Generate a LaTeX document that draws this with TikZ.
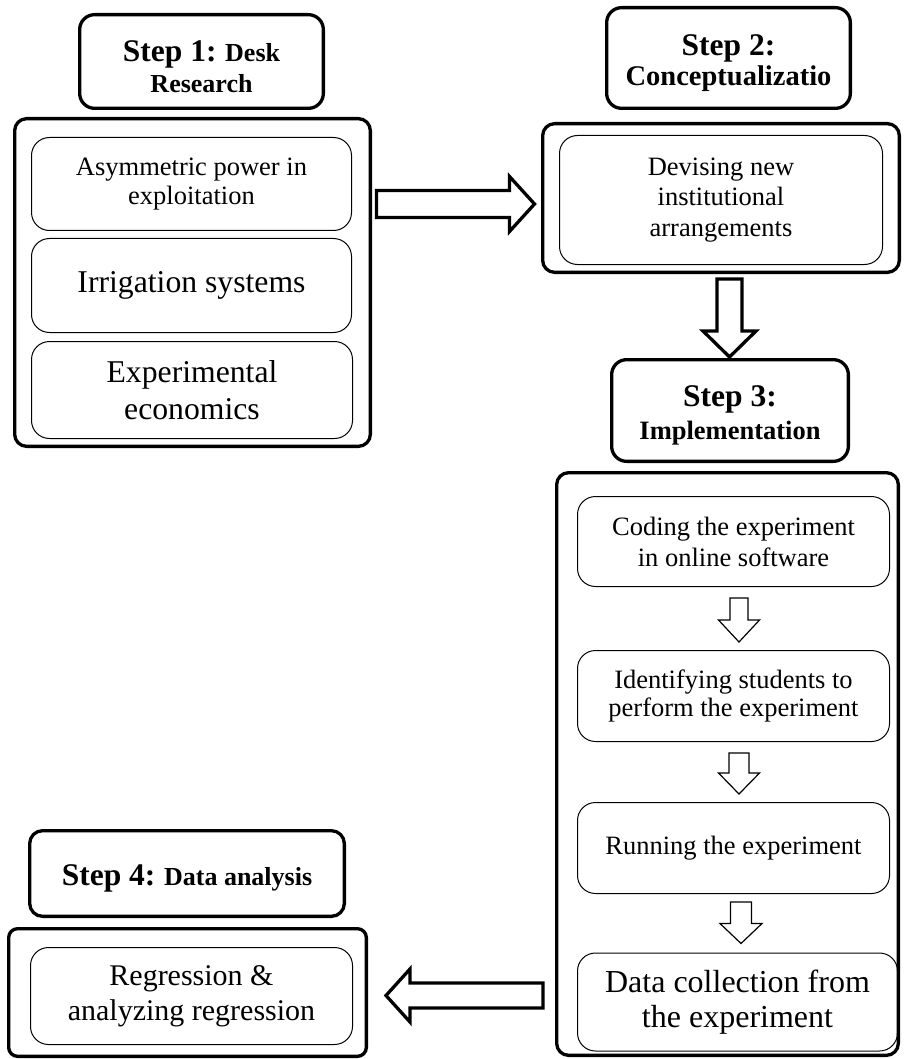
\documentclass[tikz,border=0pt]{standalone}
\usepackage{fontspec}
\setmainfont{Liberation Serif}
\usetikzlibrary{calc}
\newcommand{\myfs}[2]{\fontsize{#1}{#2}\selectfont}
% horizontal block arrow: from, tip, shaft half, head half, signed head length, style
\newcommand{\blkH}[6]{\draw[#6] ($(#1)+(0,-#3)$) -- ($(#2)+(#5,-#3)$) -- ($(#2)+(#5,-#4)$) -- (#2) -- ($(#2)+(#5,#4)$) -- ($(#2)+(#5,#3)$) -- ($(#1)+(0,#3)$) -- cycle;}
% vertical block arrow
\newcommand{\blkV}[6]{\draw[#6] ($(#1)+(-#3,0)$) -- ($(#2)+(-#3,#5)$) -- ($(#2)+(-#4,#5)$) -- (#2) -- ($(#2)+(#4,#5)$) -- ($(#2)+(#3,#5)$) -- ($(#1)+(#3,0)$) -- cycle;}
\newcommand{\hdrstrut}{\rule{0pt}{31pt}}
\begin{document}
\begin{tikzpicture}[x=1pt,y=-1pt,
  hdr/.style={draw, line width=3.3pt, rounded corners=15pt, align=center, inner sep=0pt, font=\myfs{26}{31}\bfseries},
  outer/.style={draw, line width=3.3pt, rounded corners=12pt, inner sep=0pt},
  inbox/.style={draw, line width=1pt, rounded corners=18pt, align=center, inner sep=0pt},
  bigarrow/.style={draw, line width=3.3pt, fill=white, line join=miter},
  smallarrow/.style={draw, line width=1.2pt, fill=white, line join=miter}]
\useasboundingbox (0,0) rectangle (903,1059);

% Step 1
\node[hdr, minimum width=243.7pt, minimum height=93.7pt] (s1h) at (201.5,61.5)
  {\hdrstrut{\myfs{31.5}{31}Step 1:} Desk\\Research};
\node[outer, minimum width=355.7pt, minimum height=327.7pt] (s1o) at (192.5,282.5) {};
\node[inbox, minimum width=320pt, minimum height=93pt, font=\myfs{26.5}{29}] (i11) at (191.5,184)
  {Asymmetric power in\\exploitation};
\node[inbox, minimum width=320pt, minimum height=94pt, font=\myfs{31.7}{37}] (i12) at (191.5,285.5)
  {Irrigation systems};
\node[inbox, minimum width=321pt, minimum height=97pt, font=\myfs{31.7}{37}] (i13) at (192,390)
  {Experimental\\economics};

% Step 2
\node[hdr, minimum width=243.7pt, minimum height=100.7pt, font=\myfs{28.5}{30}\bfseries] (s2h) at (728.5,58)
  {\hdrstrut{\myfs{31.5}{30}Step 2:}\\Conceptualizatio};
\node[outer, minimum width=356.7pt, minimum height=148.7pt] (s2o) at (721,198) {};
\node[inbox, minimum width=323pt, minimum height=129pt, font=\myfs{26.5}{30.5}] (i21) at (721,200)
  {Devising new\\institutional\\arrangements};

% Step 3
\node[hdr, minimum width=236.7pt, minimum height=101.7pt, font=\myfs{26.5}{33}\bfseries] (s3h) at (730,410.5)
  {\hdrstrut{\myfs{31.5}{33}Step 3:}\\Implementation};
\node[outer, minimum width=341.7pt, minimum height=582.7pt] (s3o) at (727.5,764) {};
\node[inbox, minimum width=312pt, minimum height=90pt, font=\myfs{26.5}{31}] (ia) at (733.5,541.5)
  {Coding the experiment\\in online software};
\node[inbox, minimum width=312pt, minimum height=91pt, font=\myfs{26.5}{28.5}] (ib) at (733.5,696)
  {Identifying students to\\perform the experiment};
\node[inbox, minimum width=312pt, minimum height=91pt, font=\myfs{26.5}{31}] (ic) at (733.5,848)
  {Running the experiment};
\node[inbox, minimum width=320pt, minimum height=98pt, font=\myfs{32}{35}] (id) at (737.5,1002)
  {Data collection from\\the experiment};

% Step 4
\node[hdr, minimum width=314.7pt, minimum height=85.7pt, rounded corners=13pt] (s4h) at (187,873.5)
  {\hdrstrut{\myfs{31.5}{31}Step 4:} Data analysis};
\node[outer, minimum width=357.7pt, minimum height=127.7pt, rounded corners=9pt] (s4o) at (187.5,992.5) {};
\node[inbox, minimum width=322pt, minimum height=97pt, font=\myfs{30}{35}] (i41) at (191.5,996)
  {Regression \&\\analyzing regression};

% connectors (block arrows)
\coordinate (r1a) at ($(s1o.east |- s2o.west)+(4.5,6)$);
\coordinate (r1b) at ($(s2o.west)+(-6.5,6)$);
\blkH{r1a}{r1b}{13.5}{27.5}{-25}{bigarrow}

\coordinate (d1a) at ($(s2o.south)+(8.5,5)$);
\coordinate (d1b) at ($(s3h.north)+(-0.5,-1)$);
\blkV{d1a}{d1b}{12.5}{26.5}{-26}{bigarrow}

\coordinate (sa1) at ($(ia.south)+(5.5,11)$);
\coordinate (sb1) at ($(ib.north)+(5.5,-8)$);
\blkV{sa1}{sb1}{9}{20.5}{-22}{smallarrow}

\coordinate (sa2) at ($(ib.south)+(5.5,11)$);
\coordinate (sb2) at ($(ic.north)+(5.5,-8)$);
\blkV{sa2}{sb2}{10}{20.5}{-21}{smallarrow}

\coordinate (sa3) at ($(ic.south)+(7.5,8)$);
\coordinate (sb3) at ($(id.north)+(3.5,-9)$);
\blkV{sa3}{sb3}{10.5}{21}{-20}{smallarrow}

\coordinate (l1a) at ($(s3o.west |- s4o.east)+(-12,3)$);
\coordinate (l1b) at ($(s4o.east)+(18,3)$);
\blkH{l1a}{l1b}{12.5}{26.5}{24}{bigarrow}
\end{tikzpicture}
\end{document}
